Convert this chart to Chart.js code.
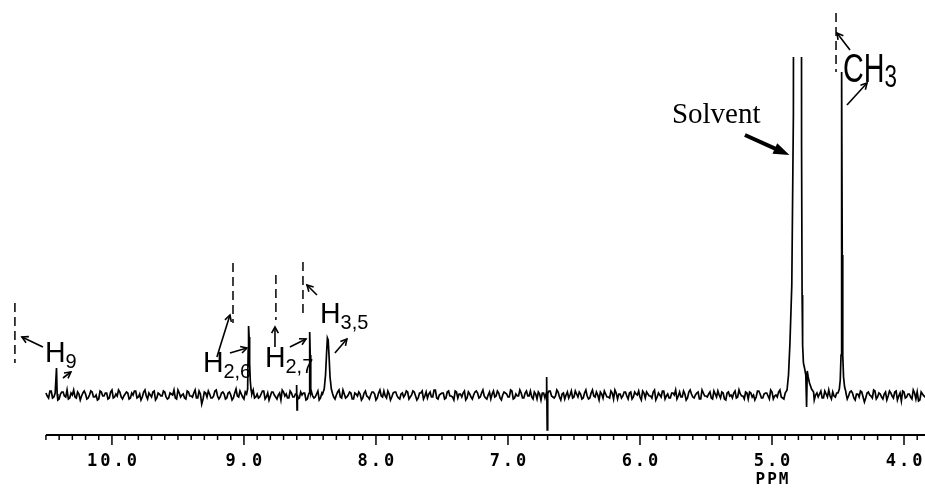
<!DOCTYPE html>
<html>
<head>
<meta charset="utf-8">
<script src="https://cdn.jsdelivr.net/npm/chart.js@4.4.1/dist/chart.umd.min.js"></script>
<style>
html, body { margin: 0; padding: 0; background: #fff; }
#wrap { width: 925px; height: 488px; position: relative; }
</style>
</head>
<body>
<div id="wrap"><canvas id="nmr"></canvas></div>
<script>
// 1H NMR spectrum. x = chemical shift (ppm), y = intensity (arbitrary units, baseline 0)
var noiseStart = 10.5;
var noiseStep = 0.02;
var baselineNoise = [
  2,-3,4,-2,1,-4,3,-1,5,-3,0,-2,3,-5,2,1,-3,4,-2,0,
  -4,3,-1,2,-3,5,-2,-1,3,-4,1,2,-3,0,4,-2,-5,3,-1,2,
  -2,4,-3,1,-1,3,-4,2,0,-3,5,-2,1,-4,3,-1,2,-3,4,-9,
  3,-2,1,-3,4,-1,-2,3,-4,2,0,-3,6,-2,1,-4,2,-1,3,-3,
  1,-2,4,-4,2,-1,3,-2,0,-5,3,1,-3,2,-2,4,-3,0,2,-4,
  3,-1,-2,4,-3,1,2,-4,3,-2,0,5,-3,1,-2,3,-4,2,-1,1,
  -3,4,-2,0,3,-5,2,-1,4,-3,1,-2,3,-1,-4,2,0,3,-2,4,
  -1,-3,2,-4,3,1,-2,5,-3,0,2,-4,3,-1,-2,4,-3,1,2,-5,
  3,-2,0,4,-3,2,-1,-4,3,1,-2,4,-3,0,2,-2,5,-4,1,-1,
  2,-3,4,-1,-2,3,-4,1,2,-3,0,4,-2,-1,3,-5,2,0,-3,4,
  -2,1,3,-4,2,-1,-3,5,-2,0,3,-3,1,-2,4,-4,2,1,-3,3,
  -1,2,-4,3,0,-2,4,-3,1,-1,3,-5,2,-2,4,-1,-3,2,0,-4,
  3,-2,1,-3,5,-2,0,3,-4,2,-1,1,-3,4,-2,0,3,-4,2,-1,
  -3,4,-2,1,-1,3,-4,2,0,-2,4,-3,1,2,-4,3,-1,-2,5,-3,
  1,-2,3,-4,2,0,-3,4,-1,-2,3,-5,2,1,-3,4,-2,-1,3,-2,
  0,3,-4,2,-1,4,-3,1,-2,3,-7,2,0,-3,4,-2,1,-4,3,-1,
  2,-3,4,-1,-6,3,-2,1,-4,2,3,-5,1,-2,4,-3,-7,2,-1,3
];
// samples half-way between the ones above
var baselineNoiseMid = [
  -1,4,-3,2,-5,1,3,-2,-4,2,5,-3,1,-1,4,-4,0,3,-2,-5,
  4,-1,2,-4,3,-3,1,5,-2,-1,3,-4,2,4,-3,1,-2,5,-4,0,
  3,-5,2,-1,4,-2,-3,1,5,-4,2,0,-3,4,-1,-2,5,-3,1,-4,
  2,4,-3,-1,5,-4,2,1,-3,3,-5,2,-1,4,-2,3,-4,0,5,-2,
  -3,1,4,-2,-5,3,0,-4,2,5,-1,-3,4,-2,1,-4,3,2,-5,1,
  4,-3,1,-5,2,3,-2,-1,4,-4,3,-2,5,-3,0,2,-4,1,3,-5,
  2,-1,-4,3,1,-3,5,-2,-1,4,-5,2,3,-3,1,-2,4,-4,0,3,
  -5,2,4,-1,-3,3,-2,5,-4,1,2,-3,4,-1,-5,3,1,-2,4,-3,
  1,-4,3,2,-2,5,-3,0,-4,4,-1,2,-5,3,1,-2,4,-3,-1,5,
  -3,2,-1,4,-4,1,3,-5,2,-2,4,-1,-3,5,-2,1,-4,3,0,-3,
  4,-2,1,-3,5,-4,2,-1,3,-5,1,4,-2,-3,2,5,-4,1,-1,3,
  -4,3,-2,1,4,-5,2,3,-1,-3,5,-2,0,4,-4,1,-3,2,5,-1,
  -2,4,-5,3,1,-3,2,-4,5,-1,-2,3,-4,1,4,-3,2,-5,3,0,
  2,-3,5,-1,-4,2,3,-2,-5,4,1,-3,2,-1,5,-4,0,3,-2,-4,
  3,1,-4,5,-2,-3,4,-1,2,-5,3,0,-2,4,-3,1,5,-4,-1,2,
  -3,5,-1,-4,3,2,-5,1,4,-2,-3,3,-1,5,-4,2,-2,1,-5,4,
  -1,3,-5,2,4,-3,1,-2,5,-4,-6,3,-1,2,-5,4,-3,-8,1,-2
];

var peakH9 = [[10.425, 2], [10.42, 27], [10.415, 1]];
var peakH26 = [[8.98, 1], [8.972, 6], [8.968, 45], [8.965, 69], [8.961, 58], [8.957, 32], [8.952, 14], [8.946, 5], [8.94, 1]];
var spike860 = [[8.604, 1], [8.601, 10], [8.598, -15], [8.595, 0]];
var peakH27 = [[8.506, 2], [8.502, 63], [8.498, 40], [8.494, 2]];
var peakH35 = [[8.405, 1], [8.392, 6], [8.382, 20], [8.374, 42], [8.368, 57], [8.362, 55], [8.355, 38], [8.348, 18], [8.338, 6], [8.328, 1]];
var spike670 = [[6.71, 2], [6.707, 18], [6.703, -35], [6.699, 1]];
var peakSolvent = [[4.90, 2], [4.886, 5], [4.875, 20], [4.864, 52], [4.85, 110], [4.838, 280], [4.828, 1500], [4.803, 3000],
  [4.781, 1500], [4.776, 250], [4.772, 100], [4.768, 50], [4.762, 32], [4.752, 26], [4.744, 20], [4.738, -12],
  [4.733, 24], [4.726, 18], [4.716, 12], [4.70, 6], [4.685, 3]];
var peakCH3 = [[4.50, 2], [4.49, 6], [4.483, 15], [4.477, 40], [4.474, 130], [4.471, 323], [4.468, 140], [4.464, 40], [4.458, 18], [4.45, 8], [4.44, 3]];

var tickValues = [10, 9, 8, 7, 6, 5, 4];
var tickLabels = ['10.0', '9.0', '8.0', '7.0', '6.0', '5.0', '4.0'];
var axisTitle = 'PPM';

// annotations (data units: ppm, intensity)
var dashMarks = [[10.735, 32, 92], [9.083, 72, 132], [8.758, 75, 120], [8.553, 77, 133], [4.515, 323, 382]];
var arrows = [
  [10.523, 48, 10.682, 58], [10.371, 17, 10.311, 23],
  [9.205, 38, 9.106, 80], [9.106, 42, 8.977, 47],
  [8.765, 48, 8.765, 68], [8.652, 48, 8.530, 56],
  [8.447, 100, 8.523, 110], [8.311, 42, 8.220, 56],
  [4.409, 345, 4.508, 362], [4.432, 290, 4.280, 312]
];
var solventArrow = [5.205, 260, 4.868, 240];
var labels = [
  { main: 'H', sub: '9', ppm: 10.508, y: 33 },
  { main: 'H', sub: '2,6', ppm: 9.311, y: 23 },
  { main: 'H', sub: '2,7', ppm: 8.841, y: 28 },
  { main: 'H', sub: '3,5', ppm: 8.424, y: 72 }
];
var ch3Label = { main: 'CH', sub: '3', ppm: 4.462, y: 313 };
var solventLabel = { text: 'Solvent', ppm: 5.758, y: 272 };

// build the trace: noise grid with peak regions replaced by peak points
var peakGroups = [peakH9, peakH26, spike860, peakH27, peakH35, spike670, peakSolvent, peakCH3];
var points = [];
function addNoise(arr, offset) {
  arr.forEach(function (v, i) {
    var x = noiseStart - (i + offset) * noiseStep;
    var inside = peakGroups.some(function (g) { return x <= g[0][0] && x >= g[g.length - 1][0]; });
    if (!inside) points.push({ x: x, y: v });
  });
}
addNoise(baselineNoise, 0);
addNoise(baselineNoiseMid, 0.5);
peakGroups.forEach(function (g) {
  g.forEach(function (p) { points.push({ x: p[0], y: p[1] }); });
});
points.sort(function (a, b) { return b.x - a.x; });

function arrowHead(ctx, x1, y1, x2, y2, len) {
  var a = Math.atan2(y2 - y1, x2 - x1);
  ctx.beginPath();
  ctx.moveTo(x2 - len * Math.cos(a - 0.5), y2 - len * Math.sin(a - 0.5));
  ctx.lineTo(x2, y2);
  ctx.lineTo(x2 - len * Math.cos(a + 0.5), y2 - len * Math.sin(a + 0.5));
  ctx.stroke();
}

function subText(ctx, lab, x, y, mainFont, subFont, sx, dy) {
  ctx.save();
  ctx.translate(x, y);
  ctx.scale(sx, 1);
  ctx.font = mainFont;
  ctx.textAlign = 'left';
  ctx.textBaseline = 'alphabetic';
  ctx.fillText(lab.main, 0, 0);
  var w = ctx.measureText(lab.main).width;
  ctx.font = subFont;
  ctx.fillText(lab.sub, w, dy);
  ctx.restore();
}

var extras = {
  id: 'extras',
  afterDraw: function (chart) {
    var ctx = chart.ctx;
    var xs = chart.scales.x, ys = chart.scales.y, area = chart.chartArea;
    function px(v) { return xs.getPixelForValue(v); }
    function py(v) { return ys.getPixelForValue(v); }
    ctx.save();
    ctx.strokeStyle = '#000';
    ctx.fillStyle = '#000';

    // axis
    var yAx = area.bottom + 2;
    ctx.lineWidth = 2;
    ctx.beginPath();
    ctx.moveTo(px(10.5), yAx);
    ctx.lineTo(area.right, yAx);
    ctx.stroke();
    ctx.lineWidth = 1.5;
    for (var k = 0; k <= 70; k++) {
      var v = Math.round((10.5 - k * 0.1) * 10) / 10;
      if (v < xs.min) break;
      var major = tickValues.indexOf(v) >= 0;
      ctx.beginPath();
      ctx.moveTo(px(v), yAx);
      ctx.lineTo(px(v), yAx + (major ? 10 : 5));
      ctx.stroke();
    }
    ctx.font = 'bold 17px "DejaVu Sans Mono"';
    ctx.letterSpacing = '3px';
    ctx.textAlign = 'center';
    ctx.textBaseline = 'middle';
    tickValues.forEach(function (t, i) {
      ctx.fillText(tickLabels[i], px(t) + 1.5, yAx + 27);
    });
    ctx.font = 'bold 16px "DejaVu Sans Mono"';
    ctx.letterSpacing = '2px';
    ctx.fillText(axisTitle, px(5.0) + 1, yAx + 45);
    ctx.letterSpacing = '0px';

    // dashed reference lines
    ctx.lineWidth = 1.5;
    ctx.setLineDash([9, 5]);
    dashMarks.forEach(function (d) {
      ctx.beginPath();
      ctx.moveTo(px(d[0]), py(d[2]));
      ctx.lineTo(px(d[0]), py(d[1]));
      ctx.stroke();
    });
    ctx.setLineDash([]);

    // thin arrows
    ctx.lineWidth = 1.6;
    arrows.forEach(function (a) {
      var x1 = px(a[0]), y1 = py(a[1]), x2 = px(a[2]), y2 = py(a[3]);
      ctx.beginPath();
      ctx.moveTo(x1, y1);
      ctx.lineTo(x2, y2);
      ctx.stroke();
      arrowHead(ctx, x1, y1, x2, y2, 7);
    });

    // solvent arrow (bold, filled head)
    var sx1 = px(solventArrow[0]), sy1 = py(solventArrow[1]);
    var sx2 = px(solventArrow[2]), sy2 = py(solventArrow[3]);
    var ang = Math.atan2(sy2 - sy1, sx2 - sx1);
    ctx.lineWidth = 4;
    ctx.beginPath();
    ctx.moveTo(sx1, sy1);
    ctx.lineTo(sx2 - 12 * Math.cos(ang), sy2 - 12 * Math.sin(ang));
    ctx.stroke();
    ctx.beginPath();
    ctx.moveTo(sx2, sy2);
    ctx.lineTo(sx2 - 17 * Math.cos(ang - 0.35), sy2 - 17 * Math.sin(ang - 0.35));
    ctx.lineTo(sx2 - 17 * Math.cos(ang + 0.35), sy2 - 17 * Math.sin(ang + 0.35));
    ctx.closePath();
    ctx.fill();

    // labels
    labels.forEach(function (l) {
      subText(ctx, l, px(l.ppm), py(l.y), '30px "Liberation Sans"', '21px "Liberation Sans"', 0.95, 6);
    });
    subText(ctx, ch3Label, px(ch3Label.ppm), py(ch3Label.y), '41px "Liberation Sans"', '32px "Liberation Sans"', 0.7, 5);
    ctx.font = '29px "Liberation Serif"';
    ctx.textAlign = 'left';
    ctx.textBaseline = 'alphabetic';
    ctx.fillText(solventLabel.text, px(solventLabel.ppm), py(solventLabel.y));
    ctx.restore();
  }
};

new Chart(document.getElementById('nmr'), {
  type: 'line',
  data: {
    datasets: [{
      label: 'spectrum',
      data: points,
      borderColor: '#000',
      borderWidth: 1.7,
      pointRadius: 0,
      tension: 0,
      fill: false
    }]
  },
  options: {
    responsive: true,
    maintainAspectRatio: false,
    animation: false,
    layout: { padding: { top: 57, bottom: 55, left: 0, right: 0 } },
    plugins: { legend: { display: false }, tooltip: { enabled: false } },
    scales: {
      x: { type: 'linear', reverse: true, min: 3.841, max: 10.848, display: false },
      y: { type: 'linear', min: -38, max: 338, display: false }
    }
  },
  plugins: [extras]
});
</script>
</body>
</html>
